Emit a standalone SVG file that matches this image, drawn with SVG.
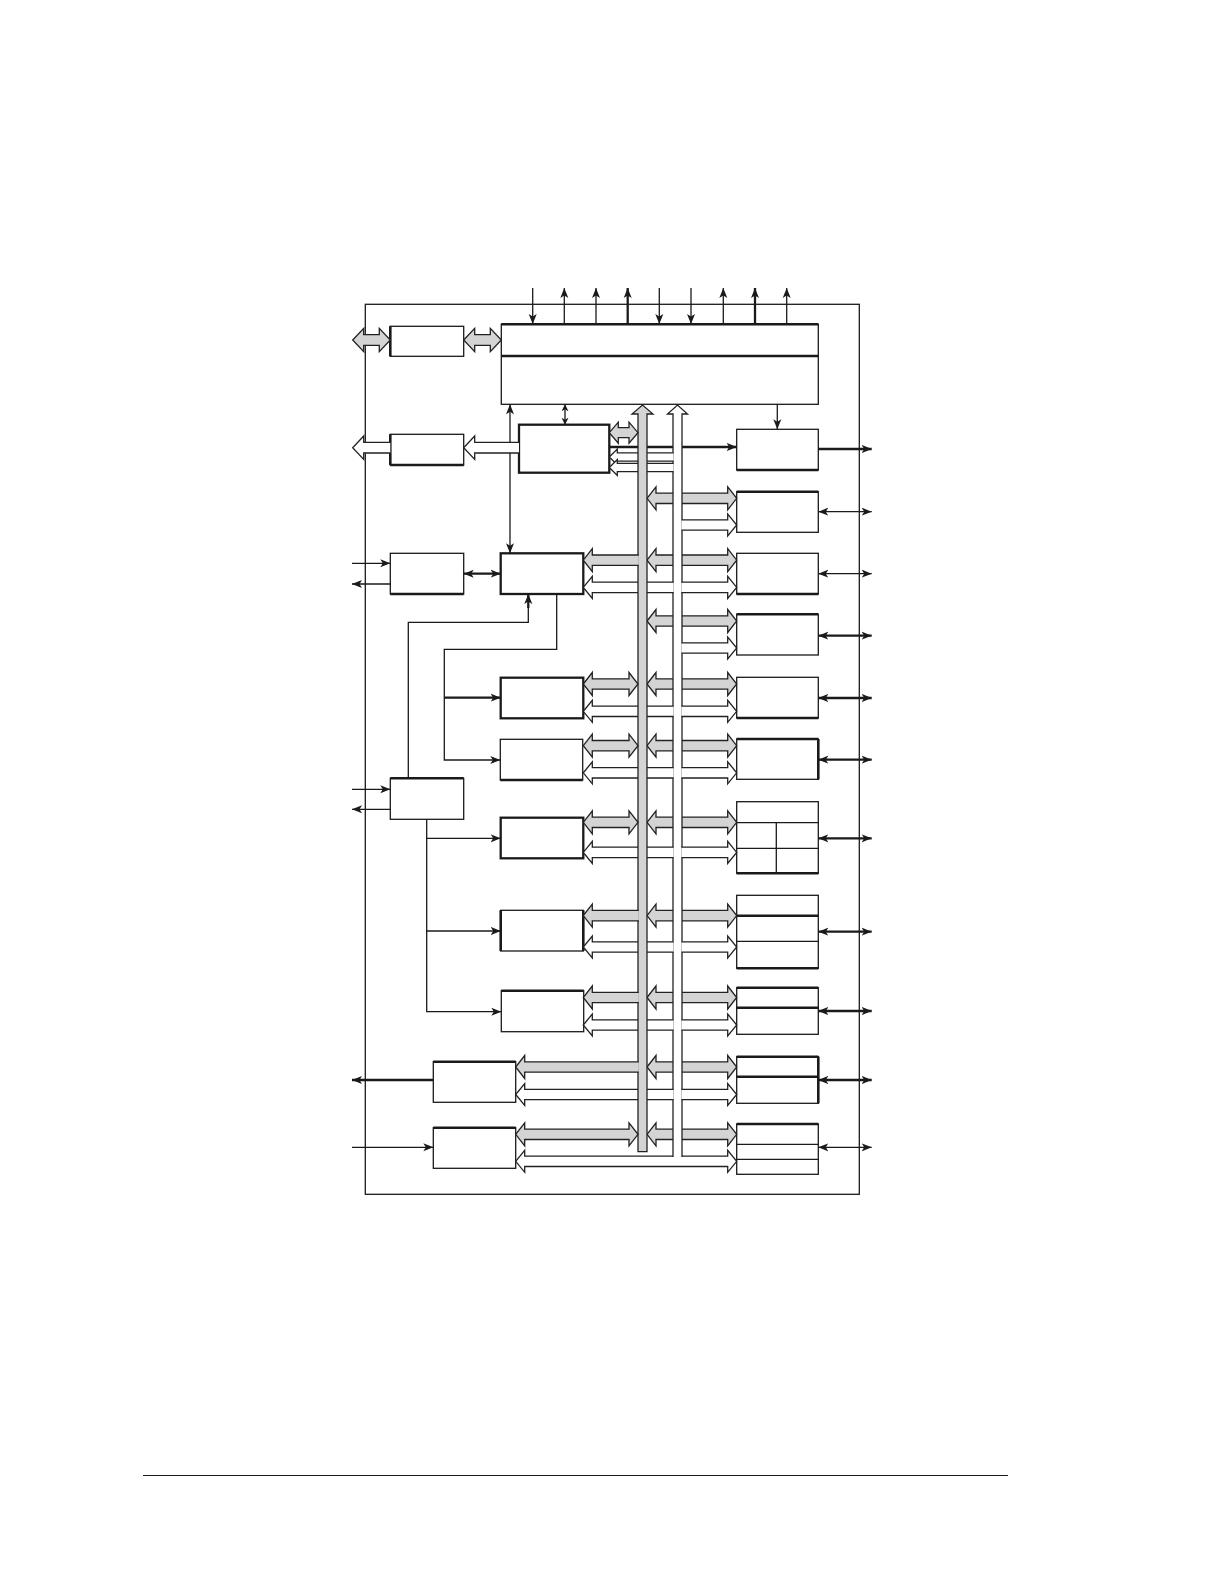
<svg xmlns="http://www.w3.org/2000/svg" width="1222" height="1584" viewBox="0 0 1222 1584">
<style>
.b{fill:#fff;stroke:#1a1a1a;stroke-width:1.3}
.bt{fill:#fff;stroke:#1a1a1a;stroke-width:2.3}
.tk{stroke:#1a1a1a;stroke-width:2.6;fill:none}
.ln{stroke:#1a1a1a;stroke-width:1.3;fill:none}
.lt{stroke:#1a1a1a;stroke-width:2.3;fill:none}
.g{fill:#d4d4d4;stroke:#222;stroke-width:1.3}
.w{fill:#fff;stroke:#222;stroke-width:1.3}
</style>
<defs>
<marker id="a" markerUnits="userSpaceOnUse" markerWidth="12" markerHeight="10" refX="10" refY="4.5" orient="auto-start-reverse"><path d="M0,0.5 L10,4.5 L0,8.5 L2.5,4.5z" fill="#1a1a1a"/></marker>
<marker id="s" markerUnits="userSpaceOnUse" markerWidth="9" markerHeight="8" refX="7" refY="3.5" orient="auto-start-reverse"><path d="M0,0 L7,3.5 L0,7 L2,3.5z" fill="#1a1a1a"/></marker>
<polygon id="gr" class="g" points="647,0 656,-11.5 656,-5.2 727.7,-5.2 727.7,-11.5 736.7,0 727.7,11.5 727.7,5.2 656,5.2 656,11.5"/>
<path id="hr" class="w" d="M681.4,-5.2 H727.7 V-11 L736.7,0 L727.7,11 V5.2 H681.4"/>
<path id="hl" class="w" d="M673.6,-5.2 H592.3 V-11 L583.3,0 L592.3,11 V5.2 H673.6"/>
<path id="hlj" class="w" d="M673.6,-5.2 H524.7 V-11 L515.7,0 L524.7,11 V5.2 H673.6"/>
<path id="hc" class="w" d="M673.6,-4.2 H617.3 V-8 L609.3,0 L617.3,8 V4.2 H673.6"/>
<path id="gl" class="g" d="M638.8,-5.2 H592.3 V-11.5 L583.3,0 L592.3,11.5 V5.2 H638.8"/>
<path id="glj" class="g" d="M638.8,-5.2 H524.7 V-11.5 L515.7,0 L524.7,11.5 V5.2 H638.8"/>
<polygon id="gd" class="g" points="583.3,0 592.3,-11.5 592.3,-5.2 629,-5.2 629,-11.5 638,0 629,11.5 629,5.2 592.3,5.2 592.3,11.5"/>
<polygon id="gdk" class="g" points="515.7,0 524.7,-11.5 524.7,-5.2 629,-5.2 629,-11.5 638,0 629,11.5 629,5.2 524.7,5.2 524.7,11.5"/>
</defs>
<rect x="0" y="0" width="1222" height="1584" fill="#fff"/>
<rect id="frame" x="365.3" y="304.3" width="494" height="890" class="b" fill="none"/>
<line x1="143" y1="1475.5" x2="1008" y2="1475.5" stroke="#1a1a1a" stroke-width="1.2"/>

<g id="nodes">
<g id="big"><rect x="501.3" y="324.3" width="317" height="80" class="b"/><line x1="501.3" y1="324.3" x2="818.3" y2="324.3" class="tk"/><line x1="501.3" y1="356" x2="818.3" y2="356" class="tk"/></g>
<g id="A"><rect x="390.3" y="326.3" width="73.4" height="30" class="b"/><line x1="390.3" y1="326.3" x2="390.3" y2="356.3" class="tk"/></g>
<g id="B"><rect x="390.3" y="434.3" width="73.4" height="30.7" class="b"/><line x1="390.3" y1="434.3" x2="390.3" y2="465" class="tk"/><line x1="390.3" y1="465" x2="463.7" y2="465" class="tk"/></g>
<g id="C"><rect x="519" y="424.7" width="90.3" height="48" class="bt"/></g>
<g id="L1"><rect x="390.3" y="553.3" width="73.4" height="40.7" class="b"/><line x1="390.3" y1="594" x2="463.7" y2="594" class="tk"/></g>
<g id="D"><rect x="500.7" y="553.3" width="82.6" height="40.7" class="bt"/></g>
<g id="M"><rect x="390.3" y="778.3" width="73.4" height="41" class="b"/><line x1="390.3" y1="778.3" x2="463.7" y2="778.3" class="tk"/></g>
<g id="F"><rect x="500.7" y="677.7" width="82.6" height="40.6" class="bt"/></g>
<g id="G"><rect x="500.3" y="739.3" width="82.4" height="40.7" class="b"/><line x1="500.3" y1="780" x2="582.7" y2="780" class="tk"/></g>
<g id="P"><rect x="500.7" y="817.7" width="82.6" height="40.6" class="bt"/></g>
<g id="H"><rect x="500.7" y="910.3" width="82.6" height="40.7" class="b"/><line x1="500.7" y1="910.3" x2="500.7" y2="951" class="tk"/><line x1="583.3" y1="910.3" x2="583.3" y2="951" class="tk"/></g>
<g id="I"><rect x="501.3" y="990.7" width="82.4" height="41" class="b"/><line x1="501.3" y1="990.7" x2="583.7" y2="990.7" class="tk"/></g>
<g id="J"><rect x="433.3" y="1061.7" width="82.4" height="40.6" class="b"/><line x1="433.3" y1="1061.7" x2="515.7" y2="1061.7" class="tk"/></g>
<g id="K"><rect x="433.3" y="1127.7" width="82.4" height="40.6" class="b"/><line x1="433.3" y1="1127.7" x2="515.7" y2="1127.7" class="tk"/></g>
<g id="E1"><rect x="736.7" y="429.3" width="81.6" height="40.7" class="b"/><line x1="736.7" y1="470" x2="818.3" y2="470" class="tk"/></g>
<g id="E2"><rect x="736.7" y="491.7" width="81.6" height="40.6" class="b"/><line x1="736.7" y1="491.7" x2="818.3" y2="491.7" class="tk"/></g>
<g id="E3"><rect x="736.7" y="553.3" width="81.6" height="40.7" class="b"/><line x1="736.7" y1="594" x2="818.3" y2="594" class="tk"/></g>
<g id="E4"><rect x="736.7" y="614.3" width="81.6" height="40.7" class="b"/><line x1="736.7" y1="614.3" x2="818.3" y2="614.3" class="tk"/></g>
<g id="E5"><rect x="736.7" y="677.3" width="81.6" height="40.7" class="b"/><line x1="736.7" y1="718" x2="818.3" y2="718" class="tk"/></g>
<g id="E6"><rect x="736.7" y="739" width="81.6" height="40.3" class="b"/><line x1="736.7" y1="739" x2="818.3" y2="739" class="tk"/><line x1="818.3" y1="739" x2="818.3" y2="779.3" class="tk"/></g>
<g id="E7"><rect x="736.7" y="801.7" width="81.6" height="71.6" class="b"/><line x1="736.7" y1="822.7" x2="818.3" y2="822.7" class="ln"/><line x1="736.7" y1="848.3" x2="818.3" y2="848.3" class="ln"/><line x1="776.3" y1="822.7" x2="776.3" y2="873.3" class="ln"/><line x1="736.7" y1="873.3" x2="818.3" y2="873.3" class="tk"/></g>
<g id="E8"><rect x="736.7" y="895.3" width="81.6" height="73" class="b"/><line x1="736.7" y1="915.7" x2="818.3" y2="915.7" class="tk"/><line x1="736.7" y1="941.3" x2="818.3" y2="941.3" class="ln"/><line x1="736.7" y1="968.3" x2="818.3" y2="968.3" class="tk"/></g>
<g id="E9"><rect x="736.7" y="987.7" width="81.6" height="46.6" class="b"/><line x1="736.7" y1="987.7" x2="818.3" y2="987.7" class="tk"/><line x1="736.7" y1="1007.7" x2="818.3" y2="1007.7" class="tk"/></g>
<g id="E10"><rect x="736.7" y="1056.7" width="81.6" height="46.6" class="b"/><line x1="736.7" y1="1056.7" x2="818.3" y2="1056.7" class="tk"/><line x1="736.7" y1="1076.7" x2="818.3" y2="1076.7" class="tk"/><line x1="818.3" y1="1056.7" x2="818.3" y2="1103.3" class="tk"/></g>
<g id="E11"><rect x="736.7" y="1124" width="81.6" height="50.3" class="b"/><line x1="736.7" y1="1124" x2="818.3" y2="1124" class="tk"/><line x1="736.7" y1="1144.3" x2="818.3" y2="1144.3" class="ln"/><line x1="736.7" y1="1159.3" x2="818.3" y2="1159.3" class="ln"/></g>
</g>

<g id="connectors">
<line x1="532.7" y1="288" x2="532.7" y2="324" class="ln" marker-end="url(#a)"/>
<line x1="564.3" y1="324" x2="564.3" y2="288" class="ln" marker-end="url(#a)"/>
<line x1="596" y1="324" x2="596" y2="288" class="ln" marker-end="url(#a)"/>
<line x1="627.7" y1="324" x2="627.7" y2="288" class="lt" marker-end="url(#a)"/>
<line x1="659.3" y1="288" x2="659.3" y2="324" class="ln" marker-end="url(#a)"/>
<line x1="691" y1="288" x2="691" y2="324" class="ln" marker-end="url(#a)"/>
<line x1="723.3" y1="324" x2="723.3" y2="288" class="ln" marker-end="url(#a)"/>
<line x1="755" y1="324" x2="755" y2="288" class="lt" marker-end="url(#a)"/>
<line x1="786.7" y1="324" x2="786.7" y2="288" class="ln" marker-end="url(#a)"/>
<line x1="510" y1="404.3" x2="510" y2="553.3" class="ln" marker-start="url(#a)" marker-end="url(#a)"/>
<line x1="565" y1="404.3" x2="565" y2="424.7" class="ln" marker-start="url(#s)" marker-end="url(#s)"/>
<line x1="777.3" y1="404.3" x2="777.3" y2="429.3" class="ln" marker-end="url(#a)"/>
<line x1="352" y1="563.3" x2="390.3" y2="563.3" class="ln" marker-end="url(#a)"/>
<line x1="390.3" y1="584" x2="352" y2="584" class="ln" marker-end="url(#a)"/>
<line x1="463.7" y1="573.7" x2="500.7" y2="573.7" class="lt" marker-start="url(#a)" marker-end="url(#a)"/>
<line x1="352" y1="789.3" x2="390.3" y2="789.3" class="ln" marker-end="url(#a)"/>
<line x1="390.3" y1="809.3" x2="352" y2="809.3" class="ln" marker-end="url(#a)"/>
<line x1="433.3" y1="1080" x2="352" y2="1080" class="lt" marker-end="url(#a)"/>
<line x1="352" y1="1147.3" x2="433.3" y2="1147.3" class="ln" marker-end="url(#a)"/>
<polyline points="408.3,778.3 408.3,622.3 528.3,622.3 528.3,605" class="ln"/>
<line x1="528.3" y1="608" x2="528.3" y2="594" class="lt" marker-end="url(#a)"/>
<polyline points="556.7,594 556.7,649.3 444.3,649.3 444.3,760 500.3,760" class="ln" marker-end="url(#a)"/>
<line x1="444.3" y1="697.7" x2="500.7" y2="697.7" class="lt" marker-end="url(#a)"/>
<polyline points="426.7,819.3 426.7,1011.7 501.3,1011.7" class="ln" marker-end="url(#a)"/>
<line x1="426.7" y1="838.3" x2="500.7" y2="838.3" class="ln" marker-end="url(#a)"/>
<line x1="426.7" y1="931" x2="500.7" y2="931" class="ln" marker-end="url(#a)"/>
<line x1="818.3" y1="449" x2="871.7" y2="449" class="lt" marker-end="url(#a)"/>
<line x1="818.3" y1="511.7" x2="871.7" y2="511.7" class="ln" marker-start="url(#a)" marker-end="url(#a)"/>
<line x1="818.3" y1="573.7" x2="871.7" y2="573.7" class="ln" marker-start="url(#a)" marker-end="url(#a)"/>
<line x1="818.3" y1="635.7" x2="871.7" y2="635.7" class="lt" marker-start="url(#a)" marker-end="url(#a)"/>
<line x1="818.3" y1="698" x2="871.7" y2="698" class="lt" marker-start="url(#a)" marker-end="url(#a)"/>
<line x1="818.3" y1="759.7" x2="871.7" y2="759.7" class="lt" marker-start="url(#a)" marker-end="url(#a)"/>
<line x1="818.3" y1="838.3" x2="871.7" y2="838.3" class="lt" marker-start="url(#a)" marker-end="url(#a)"/>
<line x1="818.3" y1="931.7" x2="871.7" y2="931.7" class="lt" marker-start="url(#a)" marker-end="url(#a)"/>
<line x1="818.3" y1="1011" x2="871.7" y2="1011" class="lt" marker-start="url(#a)" marker-end="url(#a)"/>
<line x1="818.3" y1="1080" x2="871.7" y2="1080" class="lt" marker-start="url(#a)" marker-end="url(#a)"/>
<line x1="818.3" y1="1147.3" x2="871.7" y2="1147.3" class="ln" marker-start="url(#a)" marker-end="url(#a)"/>
<line x1="609.3" y1="447" x2="736.7" y2="447" class="lt" marker-end="url(#a)"/>
</g>

<g id="buses">
<use href="#gr" y="498.3"/>
<use href="#gr" y="560.2"/>
<use href="#gr" y="621"/>
<use href="#gr" y="684"/>
<use href="#gr" y="745.7"/>
<use href="#gr" y="822.3"/>
<use href="#gr" y="915.6"/>
<use href="#gr" y="997.5"/>
<use href="#gr" y="1067"/>
<use href="#gr" y="1134.3"/>
<polygon class="w" points="515.7,1161.3 524.7,1150.3 524.7,1156.1 727.7,1156.1 727.7,1150.3 736.7,1161.3 727.7,1172.3 727.7,1166.5 524.7,1166.5 524.7,1172.3"/>
<path class="w" d="M673,1157 V414 H667.5 L677.5,405 L687.5,414 H682 V1157"/>
<use href="#hr" y="525"/>
<use href="#hr" y="587.4"/>
<use href="#hr" y="648"/>
<use href="#hr" y="711.3"/>
<use href="#hr" y="772.8"/>
<use href="#hr" y="852.4"/>
<use href="#hr" y="947"/>
<use href="#hr" y="1025"/>
<use href="#hr" y="1094.5"/>
<use href="#hc" y="457"/>
<use href="#hc" y="467.5"/>
<use href="#hl" y="587.4"/>
<use href="#hl" y="711.3"/>
<use href="#hl" y="772.8"/>
<use href="#hl" y="852.4"/>
<use href="#hl" y="947"/>
<use href="#hl" y="1025"/>
<use href="#hlj" y="1094.5"/>
<path class="g" d="M638,1151.7 V414 H632 L642.5,405 L653,414 H647 V1151.7 Z"/>
<use href="#gl" y="560.2"/>
<use href="#gl" y="915.6"/>
<use href="#gl" y="997.5"/>
<use href="#glj" y="1067"/>
<use href="#gd" y="684"/>
<use href="#gd" y="745.7"/>
<use href="#gd" y="822.3"/>
<use href="#gdk" y="1134.3"/>
<polygon class="g" points="609.3,432.7 618.3,422.2 618.3,427.7 629,427.7 629,422.2 638,432.7 629,443.2 629,437.7 618.3,437.7 618.3,443.2"/>
<polygon class="g" points="352.7,340 363.7,328.3 363.7,334.7 379.3,334.7 379.3,328.3 390.3,340 379.3,351.7 379.3,345.3 363.7,345.3 363.7,351.7"/>
<polygon class="g" points="463.7,340 474.7,328.3 474.7,334.7 490.3,334.7 490.3,328.3 501.3,340 490.3,351.7 490.3,345.3 474.7,345.3 474.7,351.7"/>
<path class="w" d="M390.3,442.4 H363.7 V436 L352.7,447.7 L363.7,459.4 V453 H390.3"/>
<path class="w" d="M519,442.4 H474.7 V436 L463.7,447.7 L474.7,459.4 V453 H519"/>
</g>
</svg>
